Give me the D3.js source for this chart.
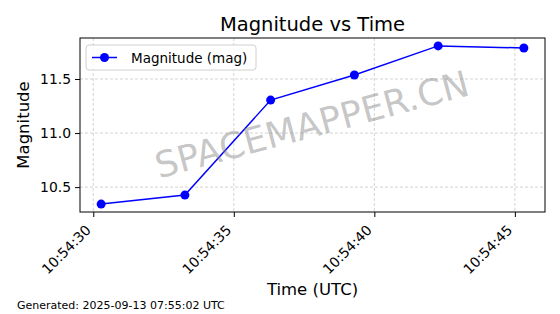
<!DOCTYPE html>
<html>
<head>
<meta charset="utf-8">
<script src="https://cdn.jsdelivr.net/npm/d3@7"></script>
<style>
  body { margin: 0; background: #fff; }
  svg text { font-family: "DejaVu Sans", sans-serif; }
</style>
</head>
<body>
<div id="chart"></div>
<script>
// data (times are UTC)
var times = ["10:54:30.28", "10:54:33.26", "10:54:36.31", "10:54:39.29", "10:54:42.27", "10:54:45.32"];
var mags = [10.343, 10.426, 11.305, 11.537, 11.806, 11.787];
var xTicks = ["10:54:30", "10:54:35", "10:54:40", "10:54:45"];
var yTicks = [10.5, 11.0, 11.5];

var svgWidth = 560, svgHeight = 314;
var margin = { top: 38, right: 15, bottom: 102, left: 80 };
var width = svgWidth - margin.left - margin.right;
var height = svgHeight - margin.top - margin.bottom;

var parseTime = d3.utcParse("%H:%M:%S.%L");
var parseTick = d3.utcParse("%H:%M:%S");
var data = times.map(function(t, i) {
  return { t: parseTime(t + "0"), m: mags[i] };
});

var svg = d3.select("#chart").append("svg")
  .attr("width", svgWidth)
  .attr("height", svgHeight);

var chartGroup = svg.append("g")
  .attr("transform", `translate(${margin.left}, ${margin.top})`);

// matplotlib style 5% margins
var tExt = d3.extent(data, d => +d.t);
var tPad = (tExt[1] - tExt[0]) * 0.05;
var mExt = d3.extent(data, d => d.m);
var mPad = (mExt[1] - mExt[0]) * 0.05;

var xTimeScale = d3.scaleUtc()
  .domain([new Date(tExt[0] - tPad), new Date(tExt[1] + tPad)])
  .range([0, width]);

var yLinearScale = d3.scaleLinear()
  .domain([mExt[0] - mPad, mExt[1] + mPad])
  .range([height, 0]);

var tickDates = xTicks.map(parseTick);

// grid
chartGroup.append("g").selectAll("line")
  .data(tickDates).enter().append("line")
  .attr("x1", d => xTimeScale(d)).attr("x2", d => xTimeScale(d))
  .attr("y1", 0).attr("y2", height)
  .attr("stroke", "#b0b0b0").attr("stroke-opacity", 0.7)
  .attr("stroke-width", 0.8).attr("stroke-dasharray", "3,2");

chartGroup.append("g").selectAll("line")
  .data(yTicks).enter().append("line")
  .attr("x1", 0).attr("x2", width)
  .attr("y1", d => yLinearScale(d)).attr("y2", d => yLinearScale(d))
  .attr("stroke", "#b0b0b0").attr("stroke-opacity", 0.7)
  .attr("stroke-width", 0.8).attr("stroke-dasharray", "3,2");

// watermark
svg.append("text")
  .attr("transform", `translate(${margin.left + width / 2}, ${margin.top + 89}) rotate(-15)`)
  .attr("text-anchor", "middle")
  .attr("dominant-baseline", "middle")
  .style("font-size", "36px")
  .attr("fill", "#808080")
  .attr("fill-opacity", 0.45)
  .text("SPACEMAPPER.CN");

// axes
var bottomAxis = d3.axisBottom(xTimeScale)
  .tickValues(tickDates)
  .tickFormat(d3.utcFormat("%H:%M:%S"))
  .tickSize(5).tickPadding(4);
var leftAxis = d3.axisLeft(yLinearScale)
  .tickValues(yTicks)
  .tickFormat(d3.format(".1f"))
  .tickSize(5).tickPadding(4);

var xg = chartGroup.append("g")
  .attr("transform", `translate(0, ${height})`)
  .call(bottomAxis);
xg.select(".domain").remove();
xg.selectAll("text")
  .style("font-size", "13.9px")
  .attr("fill", "#000")
  .attr("text-anchor", "end")
  .attr("dy", null)
  .attr("y", 0)
  .attr("transform", "translate(-2, 19) rotate(-45)");

var yg = chartGroup.append("g").call(leftAxis);
yg.select(".domain").remove();
yg.selectAll("text").style("font-size", "13.9px").attr("fill", "#000");

// frame
chartGroup.append("rect")
  .attr("width", width).attr("height", height)
  .attr("fill", "none").attr("stroke", "#000").attr("stroke-width", 1);

// line + markers
var line = d3.line()
  .x(d => xTimeScale(d.t))
  .y(d => yLinearScale(d.m));

chartGroup.append("path")
  .data([data])
  .attr("d", line)
  .attr("fill", "none")
  .attr("stroke", "#0000ff")
  .attr("stroke-width", 1.5);

chartGroup.append("g").selectAll("circle")
  .data(data).enter().append("circle")
  .attr("cx", d => xTimeScale(d.t))
  .attr("cy", d => yLinearScale(d.m))
  .attr("r", 4.5)
  .attr("fill", "#0000ff");

// legend
var legend = chartGroup.append("g").attr("transform", "translate(6, 7)");
legend.append("rect")
  .attr("width", 170).attr("height", 25).attr("rx", 3)
  .attr("fill", "#fff").attr("fill-opacity", 0.8)
  .attr("stroke", "#d0d0d0");
legend.append("line")
  .attr("x1", 6).attr("x2", 31).attr("y1", 12.5).attr("y2", 12.5)
  .attr("stroke", "#0000ff").attr("stroke-width", 1.5);
legend.append("circle")
  .attr("cx", 18.5).attr("cy", 12.5).attr("r", 4.5).attr("fill", "#0000ff");
legend.append("text")
  .attr("x", 45).attr("y", 17.5)
  .style("font-size", "13.5px")
  .text("Magnitude (mag)");

// titles
svg.append("text")
  .attr("x", margin.left + width / 2).attr("y", 31)
  .attr("text-anchor", "middle")
  .style("font-size", "19.5px")
  .text("Magnitude vs Time");

svg.append("text")
  .attr("x", margin.left + width / 2).attr("y", 295)
  .attr("text-anchor", "middle")
  .style("font-size", "16.5px")
  .text("Time (UTC)");

svg.append("text")
  .attr("transform", `translate(29, ${margin.top + height / 2}) rotate(-90)`)
  .attr("text-anchor", "middle")
  .style("font-size", "16.5px")
  .text("Magnitude");

svg.append("text")
  .attr("x", 17).attr("y", 309)
  .style("font-size", "11px")
  .text("Generated: 2025-09-13 07:55:02 UTC");
</script>
</body>
</html>
